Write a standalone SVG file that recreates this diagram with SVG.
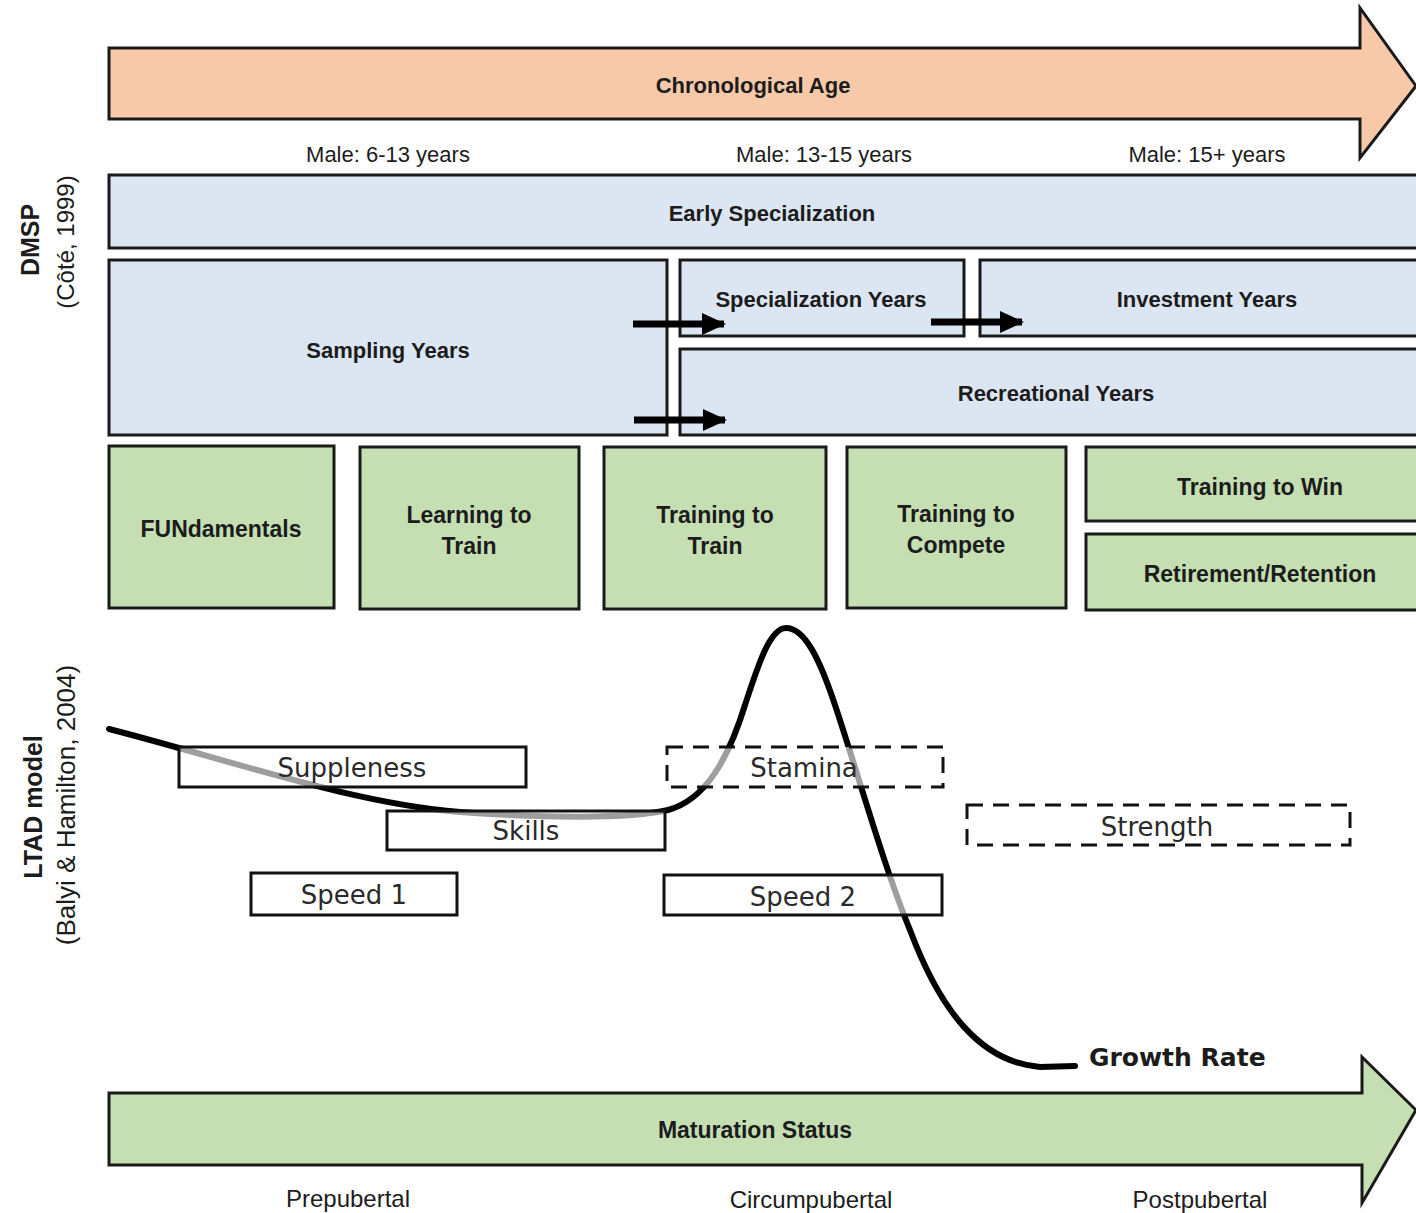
<svg xmlns="http://www.w3.org/2000/svg" width="1416" height="1213" viewBox="0 0 1416 1213">
<defs>
<style>
.t{font-family:"Liberation Sans",Arial,sans-serif;fill:#1c1c1c;text-anchor:middle;dominant-baseline:central}
.b{font-weight:bold}
.blue{fill:#dce6f2;stroke:#1a1a1a;stroke-width:3}
.green{fill:#c5dfb3;stroke:#1a1a1a;stroke-width:3}
.ltad{fill:#ffffff;fill-opacity:0.62;stroke:#111;stroke-width:3}
.dash{stroke-dasharray:16 10}
.lt{font-family:"DejaVu Sans",Verdana,sans-serif;font-size:26px;fill:#2a2a2a;text-anchor:middle;dominant-baseline:central}
.conn{stroke:#000;stroke-width:7;fill:none}
</style>
<marker id="ah" markerUnits="userSpaceOnUse" markerWidth="24" markerHeight="24" refX="22" refY="11" orient="auto">
<path d="M0,0 L24,11 L0,22 z" fill="#000"/>
</marker>
</defs>
<rect width="1416" height="1213" fill="#ffffff"/>

<g id="chronological-age">
<path d="M109,48 L1360,48 L1360,8 L1416,86 L1360,158 L1360,119 L109,119 Z" fill="#f8c9a8" stroke="#1a1a1a" stroke-width="3" stroke-linejoin="miter"/>
<text class="t b" x="753" y="85" font-size="22">Chronological Age</text>
</g>
<g id="age-labels">
<text class="t" x="388" y="154" font-size="22">Male: 6-13 years</text>
<text class="t" x="824" y="154" font-size="22">Male: 13-15 years</text>
<text class="t" x="1207" y="154" font-size="22">Male: 15+ years</text>
</g>

<g id="dmsp-label">
<text class="t b" transform="translate(30,240) rotate(-90)" font-size="25">DMSP</text>
<text class="t" transform="translate(65,242) rotate(-90)" font-size="24">(Côté, 1999)</text>
</g>
<g id="ltad-label">
<text class="t b" transform="translate(33,807) rotate(-90)" font-size="25">LTAD model</text>
<text class="t" transform="translate(66,805) rotate(-90)" font-size="26">(Balyi &amp; Hamilton, 2004)</text>
</g>

<g id="early-specialization">
<rect class="blue" x="109" y="175" width="1320" height="73"/>
<text class="t b" x="772" y="213" font-size="22">Early Specialization</text>
</g>
<g id="sampling-years">
<rect class="blue" x="109" y="260" width="558" height="175"/>
<text class="t b" x="388" y="350" font-size="22">Sampling Years</text>
</g>
<g id="specialization-years">
<rect class="blue" x="680" y="260" width="284" height="76"/>
<text class="t b" x="821" y="299" font-size="22">Specialization Years</text>
</g>
<g id="investment-years">
<rect class="blue" x="980" y="260" width="450" height="76"/>
<text class="t b" x="1207" y="299" font-size="22">Investment Years</text>
</g>
<g id="recreational-years">
<rect class="blue" x="680" y="349" width="750" height="86"/>
<text class="t b" x="1056" y="393" font-size="22">Recreational Years</text>
</g>

<g id="connectors">
<line class="conn" x1="633" y1="324" x2="724" y2="324" marker-end="url(#ah)"/>
<line class="conn" x1="634" y1="420" x2="725" y2="420" marker-end="url(#ah)"/>
<line class="conn" x1="931" y1="322" x2="1022" y2="322" marker-end="url(#ah)"/>
</g>

<g id="fundamentals">
<rect class="green" x="109" y="446" width="225" height="162"/>
<text class="t b" x="221" y="529" font-size="23">FUNdamentals</text>
</g>
<g id="learning-to-train">
<rect class="green" x="360" y="447" width="219" height="162"/>
<text class="t b" x="469" y="515" font-size="23">Learning to</text>
<text class="t b" x="469" y="546" font-size="23">Train</text>
</g>
<g id="training-to-train">
<rect class="green" x="604" y="447" width="222" height="162"/>
<text class="t b" x="715" y="515" font-size="23">Training to</text>
<text class="t b" x="715" y="546" font-size="23">Train</text>
</g>
<g id="training-to-compete">
<rect class="green" x="847" y="447" width="219" height="161"/>
<text class="t b" x="956" y="514" font-size="23">Training to</text>
<text class="t b" x="956" y="545" font-size="23">Compete</text>
</g>
<g id="training-to-win">
<rect class="green" x="1086" y="447" width="340" height="74"/>
<text class="t b" x="1260" y="487" font-size="23">Training to Win</text>
</g>
<g id="retirement-retention">
<rect class="green" x="1086" y="534" width="340" height="76"/>
<text class="t b" x="1260" y="574" font-size="23">Retirement/Retention</text>
</g>

<g id="growth-rate">
<path d="M109,729 C230,760 350,803 460,812 C540,818 630,819 668,810 C705,800 728,760 745,705 C758,665 770,628 786,628 C805,628 820,660 835,705 C860,780 885,870 910,930 C940,1010 980,1062 1040,1067 L1075,1066" fill="none" stroke="#000" stroke-width="6" stroke-linecap="round"/>
<text x="1089" y="1057" font-family="DejaVu Sans,Verdana,sans-serif" font-weight="bold" font-size="25" fill="#1c1c1c" dominant-baseline="central">Growth Rate</text>
</g>

<g id="suppleness">
<rect class="ltad" x="179" y="747" width="347" height="40"/>
<text class="lt" x="352" y="768">Suppleness</text>
</g>
<g id="skills">
<rect class="ltad" x="387" y="811" width="278" height="39"/>
<text class="lt" x="526" y="831">Skills</text>
</g>
<g id="speed-1">
<rect class="ltad" x="251" y="873" width="206" height="42"/>
<text class="lt" x="354" y="895">Speed 1</text>
</g>
<g id="stamina">
<rect class="ltad dash" x="667" y="747" width="276" height="40"/>
<text class="lt" x="804" y="768">Stamina</text>
</g>
<g id="speed-2">
<rect class="ltad" x="664" y="875" width="278" height="40"/>
<text class="lt" x="803" y="897">Speed 2</text>
</g>
<g id="strength">
<rect class="ltad dash" x="967" y="805" width="383" height="40"/>
<text class="lt" x="1157" y="827">Strength</text>
</g>

<g id="maturation-status">
<path d="M109,1093 L1362,1093 L1362,1057 L1416,1110 L1362,1203 L1362,1165 L109,1165 Z" fill="#c5dfb3" stroke="#1a1a1a" stroke-width="3"/>
<text class="t b" x="755" y="1130" font-size="23">Maturation Status</text>
</g>
<g id="maturation-labels">
<text class="t" x="348" y="1198" font-size="24">Prepubertal</text>
<text class="t" x="811" y="1199" font-size="24">Circumpubertal</text>
<text class="t" x="1200" y="1199" font-size="24">Postpubertal</text>
</g>
</svg>
